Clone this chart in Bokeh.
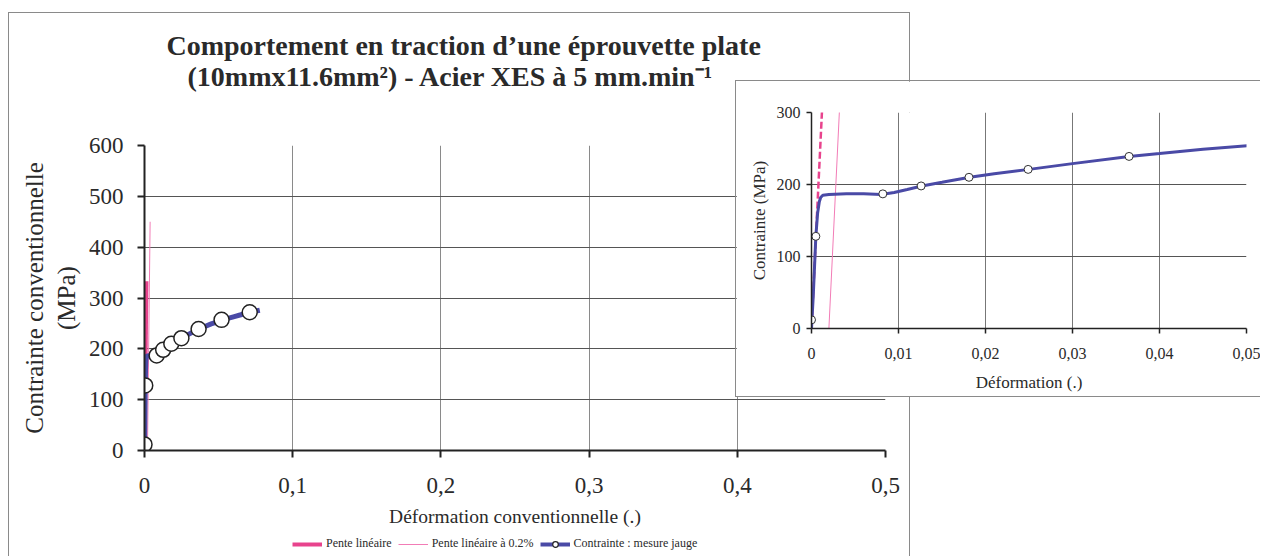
from bokeh.plotting import figure
from bokeh.models import Range1d, FixedTicker, Title, Legend, LegendItem
from bokeh.layouts import row, column
from bokeh.embed import file_html
from bokeh.resources import INLINE

# ---------------- data ----------------
TITLE_1 = "Comportement en traction d’une éprouvette plate"
TITLE_2 = "(10mmx11.6mm²) - Acier XES à 5 mm.min⁻¹"
Y_TITLE = "Contrainte conventionnelle\n(MPa)"
X_TITLE = "Déformation conventionnelle (.)"
INSET_Y_TITLE = "Contrainte (MPa)"
INSET_X_TITLE = "Déformation (.)"
LEG_1 = "Pente linéaire"
LEG_2 = "Pente linéaire à 0.2%"
LEG_3 = "Contrainte : mesure jauge"

# measured curve (strain, stress MPa)
strain = [0.0, 0.0002, 0.0004, 0.0005, 0.0007, 0.0009, 0.00105, 0.0013, 0.002, 0.004,
          0.006, 0.008, 0.0095, 0.011, 0.0127, 0.015, 0.0182, 0.021, 0.025, 0.03,
          0.0365, 0.04, 0.045, 0.0503, 0.055, 0.06, 0.065, 0.071, 0.0778]
stress = [0, 45, 100, 128, 160, 176, 182, 185, 186, 187,
          187, 186, 189, 193, 198, 203, 210, 215, 221, 229,
          239, 243, 249, 254, 259, 263, 267, 272, 276]

# gauge markers
mark_strain = [0.0, 0.0005, 0.0082, 0.0126, 0.0181, 0.0249, 0.0365, 0.052, 0.071]
mark_stress = [12, 128, 187, 198, 210, 221, 239, 257, 272]

# linear slope and 0.2 % offset line
elastic_strain = [0.0, 0.00133]
elastic_stress = [0, 333]
offset_strain = [0.002, 0.0038]
offset_stress = [0, 450]

main_xticks = [0, 0.1, 0.2, 0.3, 0.4, 0.5]
main_xlabels = ["0", "0,1", "0,2", "0,3", "0,4", "0,5"]
main_yticks = [0, 100, 200, 300, 400, 500, 600]
inset_xticks = [0, 0.01, 0.02, 0.03, 0.04, 0.05]
inset_xlabels = ["0", "0,01", "0,02", "0,03", "0,04", "0,05"]
inset_yticks = [0, 100, 200, 300]

# ---------------- styles ----------------
SERIF = "Liberation Serif"
BLUE = "#4a4aa6"
PINK = "#e8438d"
PINK_THIN = "#f27cb6"
TXT = "#2a2a2a"
BORDER = "1px solid #8a8a8a"
NB = "\u00a0"

# ---------------- main chart ----------------
p = figure(width=902, height=544, output_backend="svg", toolbar_location=None,
           x_range=Range1d(0, 0.5), y_range=Range1d(0, 600),
           min_border_left=135, min_border_right=26, min_border_top=132,
           min_border_bottom=107,
           styles={"border-left": BORDER, "border-top": BORDER, "border-right": BORDER},
           background_fill_color="white", border_fill_color="white")
p.outline_line_color = None

p.xaxis.ticker = FixedTicker(ticks=main_xticks)
p.xaxis.major_label_overrides = {t: l for t, l in zip(main_xticks, main_xlabels)}
p.yaxis.ticker = FixedTicker(ticks=main_yticks)
for ax in (p.xaxis, p.yaxis):
    ax.axis_line_color = "#222222"
    ax.axis_line_width = 2
    ax.major_tick_line_color = "#222222"
    ax.major_tick_line_width = 2
    ax.major_tick_out = 7
    ax.major_tick_in = 0
    ax.minor_tick_line_color = None
    ax.major_label_text_font = SERIF
    ax.major_label_text_font_size = "23px"
    ax.major_label_text_color = TXT
    ax.axis_label_text_font = SERIF
    ax.axis_label_text_font_style = "normal"
    ax.axis_label_text_color = TXT
p.xaxis.major_label_standoff = 20
p.yaxis.major_label_standoff = 14
p.xaxis.axis_label = X_TITLE
p.xaxis.axis_label_text_font_size = "19.5px"
p.xaxis.axis_label_standoff = 10
p.yaxis.axis_label = Y_TITLE
p.yaxis.axis_label_text_font_size = "25px"
p.yaxis.axis_label_standoff = 6

p.ygrid.grid_line_color = "#555555"
p.xgrid.grid_line_color = "#8a8a8a"
p.ygrid.ticker = FixedTicker(ticks=main_yticks)
p.xgrid.ticker = FixedTicker(ticks=main_xticks)

p.line(elastic_strain, elastic_stress, line_color=PINK, line_width=4)
p.line(offset_strain, offset_stress, line_color=PINK_THIN, line_width=1)
p.line(strain, stress, line_color=BLUE, line_width=5)
p.scatter(mark_strain, mark_stress, marker="circle", size=15,
          fill_color="white", line_color="#222222", line_width=1.5)

# title: spacer nearest the frame, then the two-line title
p.add_layout(Title(text=" ", text_font_size="34px", text_font=SERIF), "above")
p.add_layout(Title(text=TITLE_1 + "\n" + NB * 3 + TITLE_2, align="left", offset=22,
                   text_font=SERIF, text_font_style="bold", text_font_size="28px",
                   text_color=TXT), "above")

# ---------------- legend strip (overlaid at the bottom of the main chart) ----------------
lf = figure(width=440, height=20, output_backend="svg", toolbar_location=None,
            x_range=Range1d(10, 11), y_range=Range1d(10, 11),
            x_axis_type=None, y_axis_type=None,
            min_border_left=0, min_border_right=0, min_border_top=0, min_border_bottom=0,
            background_fill_alpha=0, border_fill_alpha=0)
lf.outline_line_color = None
lf.grid.visible = False
l_el = lf.line(elastic_strain, elastic_stress, line_color=PINK, line_width=4)
l_off = lf.line(offset_strain, offset_stress, line_color=PINK_THIN, line_width=1)
l_curve = lf.line(strain, stress, line_color=BLUE, line_width=4)
l_mark = lf.scatter(mark_strain, mark_stress, marker="circle", size=8,
                    fill_color="white", line_color="#222222", line_width=1.2)
legend = Legend(items=[LegendItem(label=LEG_1, renderers=[l_el]),
                       LegendItem(label=LEG_2, renderers=[l_off]),
                       LegendItem(label=LEG_3, renderers=[l_curve, l_mark])],
                location=(2, 3), orientation="horizontal",
                label_text_font=SERIF, label_text_font_size="12px",
                label_text_color=TXT, glyph_width=30, glyph_height=14,
                label_height=14, label_standoff=4, spacing=6, padding=0, margin=0,
                background_fill_alpha=0, border_line_color=None)
lf.add_layout(legend, "center")

# ---------------- inset chart ----------------
q = figure(width=525, height=317, output_backend="svg", toolbar_location=None,
           x_range=Range1d(0, 0.05), y_range=Range1d(0, 300),
           min_border_left=75, min_border_right=15, min_border_top=31,
           min_border_bottom=70,
           styles={"border-left": BORDER, "border-top": BORDER, "border-bottom": BORDER},
           background_fill_color="white", border_fill_color="white")
q.outline_line_color = None
q.xaxis.ticker = FixedTicker(ticks=inset_xticks)
q.xaxis.major_label_overrides = {t: l for t, l in zip(inset_xticks, inset_xlabels)}
q.yaxis.ticker = FixedTicker(ticks=inset_yticks)
for ax in (q.xaxis, q.yaxis):
    ax.axis_line_color = "#222222"
    ax.axis_line_width = 1.5
    ax.major_tick_line_color = "#222222"
    ax.major_tick_line_width = 1.5
    ax.major_tick_out = 5
    ax.major_tick_in = 0
    ax.minor_tick_line_color = None
    ax.major_label_text_font = SERIF
    ax.major_label_text_font_size = "16px"
    ax.major_label_text_color = TXT
    ax.axis_label_text_font = SERIF
    ax.axis_label_text_font_style = "normal"
    ax.axis_label_text_font_size = "17px"
    ax.axis_label_text_color = TXT
q.xaxis.major_label_standoff = 14
q.yaxis.major_label_standoff = 6
q.xaxis.axis_label = INSET_X_TITLE
q.xaxis.axis_label_standoff = 11
q.yaxis.axis_label = INSET_Y_TITLE
q.yaxis.axis_label_standoff = 5
q.ygrid.grid_line_color = "#555555"
q.xgrid.grid_line_color = "#777777"
q.ygrid.ticker = FixedTicker(ticks=inset_yticks)
q.xgrid.ticker = FixedTicker(ticks=inset_xticks)

q.line(elastic_strain, elastic_stress, line_color=PINK, line_width=2.5, line_dash="7 3")
q.line(offset_strain, offset_stress, line_color=PINK_THIN, line_width=1)
q.line(strain, stress, line_color=BLUE, line_width=3)
q.scatter(mark_strain, mark_stress, marker="circle", size=8,
          fill_color="white", line_color="#333333", line_width=1)

left = column(p, column(lf, margin=(-22, 0, 0, 282)), margin=(12, 0, 0, 8))
right = column(q, margin=(80, 0, 0, -175))
layout = row(left, right)
open("out.html", "w").write(file_html(layout, INLINE))
